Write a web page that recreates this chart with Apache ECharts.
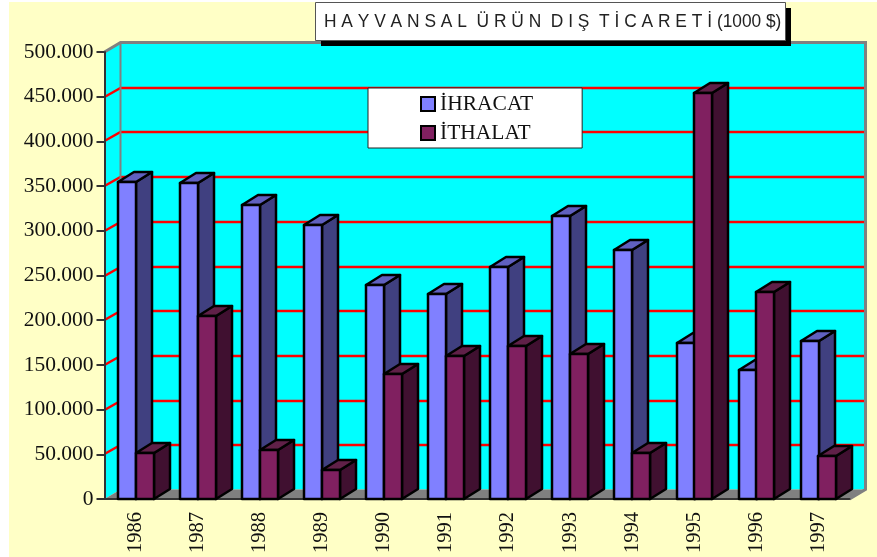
<!DOCTYPE html>
<html lang="tr">
<head>
    <meta charset="UTF-8">
    <title>Hayvansal Ürün Dış Ticareti</title>
    <script src="https://cdn.jsdelivr.net/npm/echarts@6/dist/echarts.min.js"></script>
    <style>
        html, body { margin: 0; background: #fff; }
        #bg { position: absolute; left: 9px; top: 2px; width: 868px; height: 555px; background: #ffffc6; }
        #chart { position: absolute; left: 0; top: 0; width: 877px; height: 557px; }
    </style>
</head>
<body>
    <div id="bg"></div>
    <div id="chart"></div>
    <script>
        const years = ['1986', '1987', '1988', '1989', '1990', '1991', '1992', '1993', '1994', '1995', '1996', '1997'];
        const ihracat = [354500, 353000, 328500, 306000, 239000, 229000, 260000, 317000, 279000, 175000, 144000, 177000];
        const ithalat = [52000, 205000, 55000, 32000, 140000, 160000, 171000, 162000, 51000, 454000, 232000, 48000];
        const yTicks = [50000, 100000, 150000, 200000, 250000, 300000, 350000, 400000, 450000];

        // derinlik (3B görünüm)
        const DX = 16, DY = -9.5;

        function poly(points, fill, stroke, width) {
            return {
                type: 'polygon',
                shape: { points: points },
                style: { fill: fill, stroke: stroke, lineWidth: width, lineJoin: 'round' }
            };
        }

        // duvarlar ve taban
        function renderWalls(params, api) {
            const c = params.coordSys;
            const l = c.x, r = c.x + c.width, t = c.y, b = c.y + c.height;
            return {
                type: 'group',
                children: [
                    poly([[l + DX, t + DY], [r + DX, t + DY], [r + DX, b + DY], [l + DX, b + DY]], '#00ffff'),
                    poly([[l, t], [l + DX, t + DY], [l + DX, b + DY], [l, b]], '#00ffff'),
                    poly([[l, b], [l + DX, b + DY], [r + DX, b + DY], [r, b]], '#808080')
                ].concat(yTicks.map(function (v) {
                    const y = Math.round(api.coord([0, v])[1]);
                    const by = Math.round(y + DY);
                    return { type: 'polyline', shape: { points: [[l, y], [l + DX, by], [r + DX, by]] }, style: { fill: null, stroke: '#ff0000', lineWidth: 2.5 } };
                })).concat([
                    { type: 'polyline', shape: { points: [[l, t], [l + DX, t + DY], [r + DX, t + DY], [r + DX, b + DY], [r, b]] }, style: { fill: null, stroke: '#808080', lineWidth: 3 } },
                    { type: 'line', shape: { x1: l + DX, y1: t + DY, x2: l + DX, y2: b + DY }, style: { stroke: '#808080', lineWidth: 2 } }
                ])
            };
        }

        function barRenderer(side, front, dark, top) {
            return function (params, api) {
                const p = api.coord([api.value(0), api.value(1)]);
                const base = api.coord([api.value(0), 0]);
                const w = api.size([1, 0])[0] * 0.286;
                const x0 = Math.round(side < 0 ? p[0] - w : p[0]);
                const x1 = Math.round(x0 + w);
                const y0 = Math.round(p[1]), y1 = Math.round(base[1]);
                const dx = 16, dy = -10;
                return {
                    type: 'group',
                    children: [
                        poly([[x1, y0], [x1 + dx, y0 + dy], [x1 + dx, y1 + dy], [x1, y1]], dark, '#000', 2.5),
                        poly([[x0, y0], [x0 + dx, y0 + dy], [x1 + dx, y0 + dy], [x1, y0]], top, '#000', 2.5),
                        poly([[x0, y0], [x1, y0], [x1, y1], [x0, y1]], front, '#000', 2.5)
                    ]
                };
            };
        }

        const chart = echarts.init(document.getElementById('chart'));
        chart.setOption({
            animation: false,
            grid: { left: 104.5, right: 27.5, top: 52, bottom: 58 },
            legend: {
                left: 368,
                top: 88,
                orient: 'vertical',
                data: ['İHRACAT', 'İTHALAT'],
                backgroundColor: '#fff',
                borderColor: '#222',
                borderWidth: 1,
                borderRadius: 0,
                padding: [5, 49, 4, 52],
                itemGap: 7,
                itemWidth: 14,
                itemHeight: 14,
                icon: 'rect',
                itemStyle: { borderColor: '#000', borderWidth: 2 },
                textStyle: { fontFamily: 'Liberation Serif', fontSize: 21.5, color: '#111' }
            },
            xAxis: {
                type: 'category',
                data: years,
                z: 1,
                axisLine: { lineStyle: { color: '#333', width: 2 } },
                axisTick: { length: 9, lineStyle: { color: '#333', width: 1 } },
                axisLabel: { rotate: 90, margin: 13, fontFamily: 'Liberation Serif', fontSize: 20.5, color: '#111', interval: 0 }
            },
            yAxis: {
                type: 'value',
                min: 0,
                max: 500000,
                interval: 50000,
                z: 1,
                splitLine: { show: false },
                axisLine: { show: true, lineStyle: { color: '#333', width: 2 } },
                axisTick: { show: true, length: 8, lineStyle: { color: '#333', width: 2 } },
                axisLabel: {
                    margin: 11,
                    fontFamily: 'Liberation Serif',
                    fontSize: 21.5,
                    color: '#111',
                    formatter: function (v) { return v === 0 ? '0' : (v / 1000) + '.000'; }
                }
            },
            series: [
                {
                    type: 'custom',
                    name: 'duvar',
                    z: 0,
                    silent: true,
                    data: [[0, 0]],
                    encode: { x: 0, y: 1 },
                    renderItem: renderWalls
                },
                {
                    type: 'custom',
                    name: 'İHRACAT',
                    z: 2,
                    itemStyle: { color: '#8080ff' },
                    data: ihracat.map(function (v, i) { return [i, v]; }),
                    encode: { x: 0, y: 1 },
                    renderItem: barRenderer(-1, '#8080ff', '#404080', '#6060c0')
                },
                {
                    type: 'custom',
                    name: 'İTHALAT',
                    z: 3,
                    itemStyle: { color: '#802060' },
                    data: ithalat.map(function (v, i) { return [i, v]; }),
                    encode: { x: 0, y: 1 },
                    renderItem: barRenderer(1, '#802060', '#401030', '#602048')
                }
            ],
            graphic: {
                elements: [
                    { type: 'rect', z: 10, shape: { x: 321, y: 8, width: 470, height: 38 }, style: { fill: '#000' } },
                    { type: 'rect', z: 11, shape: { x: 315.5, y: 2.5, width: 470, height: 38 }, style: { fill: '#fff', stroke: '#555', lineWidth: 1 } },
                    {
                        type: 'text', z: 12, x: 324, y: 13, scaleX: 0.965,
                        style: { text: 'H A Y V A N S A L  Ü R Ü N  D I Ş  T İ C A R E T İ', fontFamily: 'Liberation Sans', fontSize: 18, fill: '#222' }
                    },
                    {
                        type: 'text', z: 12, x: 717, y: 13, scaleX: 0.96,
                        style: { text: '(1000 $)', fontFamily: 'Liberation Sans', fontSize: 18, fill: '#222' }
                    }
                ]
            }
        });
    </script>
</body>
</html>
